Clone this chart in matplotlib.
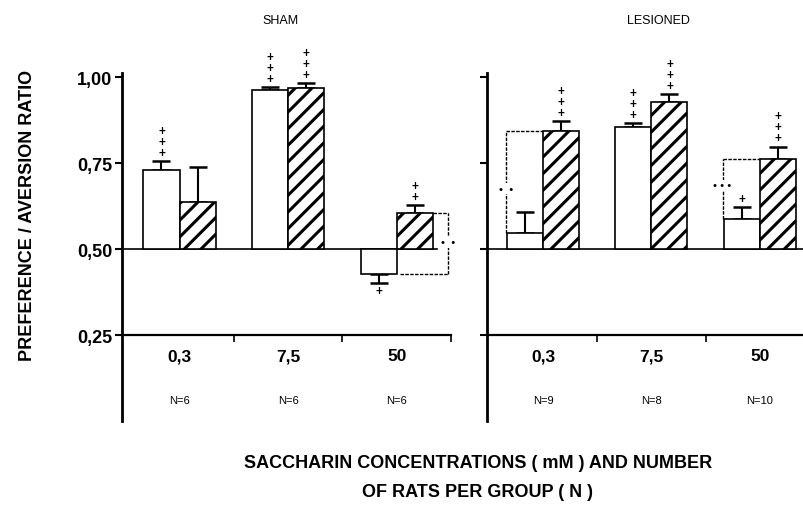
import matplotlib
matplotlib.use("Agg")
from matplotlib import pyplot as plt

plt.rcParams['font.family'] = ['Liberation Sans', 'DejaVu Sans']
plt.rcParams['hatch.linewidth'] = 2.2

# values
concentrations = ['0,3', '7,5', '50']
sham_n = ['N=6', 'N=6', 'N=6']
lesioned_n = ['N=9', 'N=8', 'N=10']

sham_open = [0.729, 0.962, 0.427]
sham_open_err = [0.027, 0.009, 0.026]
sham_hatch = [0.638, 0.968, 0.605]
sham_hatch_err = [0.100, 0.015, 0.023]

lesioned_open = [0.546, 0.855, 0.587]
lesioned_open_err = [0.061, 0.012, 0.034]
lesioned_hatch = [0.844, 0.928, 0.763]
lesioned_hatch_err = [0.029, 0.023, 0.035]

# number of "+" marks over each bar
sham_open_plus = [3, 3, 1]
sham_hatch_plus = [0, 3, 2]
lesioned_open_plus = [0, 3, 1]
lesioned_hatch_plus = [3, 3, 3]

yticks = [0.25, 0.50, 0.75, 1.00]
ytick_labels = ['0,25', '0,50', '0,75', '1,00']

BASE = 0.5
W = 0.333


def draw_bars(ax, x, vals, errs, hatch):
    for xi, v, e in zip(x, vals, errs):
        ax.bar(xi, v - BASE, bottom=BASE, width=W, color='white',
               edgecolor='black', linewidth=1.2, hatch=hatch, zorder=3)
        if v >= BASE:
            yerr = [[0], [e]]
        else:
            yerr = [[e], [0]]
        ax.errorbar(xi, v, yerr=yerr, fmt='none', ecolor='black',
                    elinewidth=1.5, capsize=6.8, capthick=1.8, zorder=2)


def draw_plus(ax, x, vals, errs, counts):
    for xi, v, e, n in zip(x, vals, errs, counts):
        for k in range(n):
            if v >= BASE:
                y = v + e + 0.024 + k * 0.032
            else:
                y = v - e - 0.024 - k * 0.032
            ax.text(xi, y, '+', ha='center', va='center', fontsize=8.5,
                    fontweight='bold', zorder=4)


def style_axis(ax, xlim, seps):
    ax.set_xlim(*xlim)
    ax.set_ylim(0.0, 1.012)
    for s in ['top', 'right']:
        ax.spines[s].set_visible(False)
    ax.spines['left'].set_linewidth(2.0)
    ax.spines['bottom'].set_position(('data', 0.25))
    ax.spines['bottom'].set_linewidth(1.6)
    ax.set_xticks(seps)
    ax.set_xticklabels([])
    ax.tick_params(axis='x', direction='out', length=5, width=1.2)
    ax.set_yticks(yticks)
    ax.tick_params(axis='y', direction='out', length=5, width=1.5, pad=2)


fig = plt.figure(figsize=(8.04, 5.06), dpi=100)
ax1 = fig.add_axes([122 / 804, 84 / 506, 329 / 804, 348 / 506])
ax2 = fig.add_axes([487 / 804, 84 / 506, 317 / 804, 348 / 506])

x = [0, 1, 2]
x_open = [i - W / 2 for i in x]
x_hatch = [i + W / 2 for i in x]

dash = (0, (2.5, 1))

# SHAM
style_axis(ax1, (-0.53, 2.5), [0.5, 1.5, 2.5])
ax1.set_yticklabels(ytick_labels, fontsize=13, fontweight='bold')
ax1.plot([-0.53, 2.37], [BASE, BASE], color='black', lw=1.2, zorder=1)
draw_bars(ax1, x_open, sham_open, sham_open_err, None)
draw_bars(ax1, x_hatch, sham_hatch, sham_hatch_err, '//')
draw_plus(ax1, x_open, sham_open, sham_open_err, sham_open_plus)
draw_plus(ax1, x_hatch, sham_hatch, sham_hatch_err, sham_hatch_plus)
# bracket between the 50 mM bars
bx = 2.47
ax1.plot([2 + W, bx], [sham_hatch[2]] * 2, ls=dash, color='black', lw=1)
ax1.plot([2 + 0.03, bx], [sham_open[2]] * 2, ls=dash, color='black', lw=1)
ax1.plot([bx, bx], [sham_open[2], sham_hatch[2]], ls=dash, color='black', lw=1)
ax1.text(bx, 0.52, '\u2022  \u2022', ha='center', va='center', fontsize=8,
         bbox=dict(facecolor='white', edgecolor='none', pad=0.3))

# LESIONED
style_axis(ax2, (-0.52, 2.41), [0.5, 1.5])
ax2.set_yticklabels([])
ax2.plot([-0.52, 2.41], [BASE, BASE], color='black', lw=1.2, zorder=1)
draw_bars(ax2, x_open, lesioned_open, lesioned_open_err, None)
draw_bars(ax2, x_hatch, lesioned_hatch, lesioned_hatch_err, '//')
draw_plus(ax2, x_open, lesioned_open, lesioned_open_err, lesioned_open_plus)
draw_plus(ax2, x_hatch, lesioned_hatch, lesioned_hatch_err, lesioned_hatch_plus)
for i, dots, ymark in [(0, '\u2022  \u2022', 0.676), (2, '\u2022 \u2022 \u2022', 0.685)]:
    lx = i - W - 0.01
    ax2.plot([lx, i], [lesioned_hatch[i]] * 2, ls=dash, color='black', lw=1)
    ax2.plot([lx, lx], [lesioned_open[i], lesioned_hatch[i]], ls=dash,
             color='black', lw=1)
    ax2.text(lx, ymark, dots, ha='center', va='center', fontsize=8,
             bbox=dict(facecolor='white', edgecolor='none', pad=0.3))

# category and group size labels
for ax, ns in [(ax1, sham_n), (ax2, lesioned_n)]:
    for i, (c, n) in enumerate(zip(concentrations, ns)):
        ax.text(i, 0.19, c, ha='center', va='center', fontsize=12.5, fontweight='bold')
        ax.text(i, 0.062, n, ha='center', va='center', fontsize=8)

fig.text(280 / 804, 1 - 21 / 506, 'SHAM', ha='center', va='center', fontsize=9)
fig.text(658 / 804, 1 - 21 / 506, 'LESIONED', ha='center', va='center', fontsize=9)
fig.text(28 / 804, 1 - 215 / 506, 'PREFERENCE / AVERSION RATIO', rotation=90,
         ha='center', va='center', fontsize=13, fontweight='bold')
fig.text(478 / 804, 1 - 463 / 506, 'SACCHARIN CONCENTRATIONS ( mM ) AND NUMBER',
         ha='center', va='center', fontsize=13, fontweight='bold')
fig.text(478 / 804, 1 - 493 / 506, 'OF RATS PER GROUP ( N )',
         ha='center', va='center', fontsize=13, fontweight='bold')

fig.savefig('out.png', dpi=100)
